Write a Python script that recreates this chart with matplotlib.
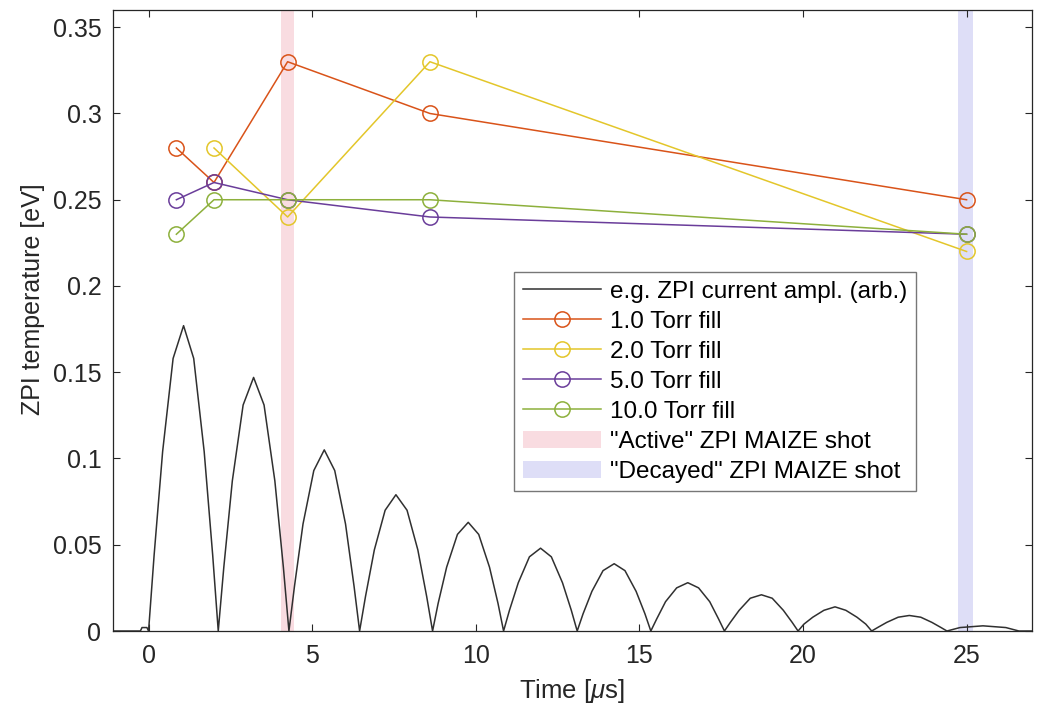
import matplotlib
matplotlib.use("Agg")
import matplotlib.pyplot as plt
import numpy as np

plt.rcParams['font.family'] = ['Liberation Sans', 'DejaVu Sans']
plt.rcParams['mathtext.fontset'] = 'custom'
plt.rcParams['mathtext.it'] = 'Liberation Sans:italic'

# ZPI current trace (arb. units)
t_current = [-1.1, -0.25, -0.2, -0.05,
             0.00, 0.17, 0.43, 0.75, 1.07, 1.38, 1.70, 1.96,
             2.13, 2.30, 2.56, 2.89, 3.21, 3.53, 3.86, 4.12,
             4.29, 4.46, 4.72, 5.05, 5.37, 5.69, 6.02, 6.28,
             6.45, 6.63, 6.90, 7.23, 7.56, 7.90, 8.23, 8.50,
             8.68, 8.85, 9.11, 9.44, 9.77, 10.09, 10.42, 10.68,
             10.85, 11.03, 11.30, 11.64, 11.98, 12.31, 12.65, 12.92,
             13.10, 13.28, 13.55, 13.89, 14.23, 14.56, 14.90, 15.17,
             15.35, 15.53, 15.80, 16.14, 16.48, 16.81, 17.15, 17.42,
             17.60, 17.78, 18.05, 18.39, 18.73, 19.06, 19.40, 19.67,
             19.85, 20.03, 20.30, 20.64, 20.98, 21.31, 21.65, 21.92,
             22.10, 22.28, 22.56, 22.91, 23.25, 23.60, 23.94, 24.22,
             24.40, 24.80, 25.50, 26.20, 26.60, 27.0]
i_current = [0.0, 0.0, 0.002, 0.002,
             0.0, 0.044, 0.104, 0.158, 0.177, 0.158, 0.104, 0.044,
             0.0, 0.037, 0.087, 0.131, 0.147, 0.131, 0.087, 0.037,
             0.0, 0.026, 0.062, 0.093, 0.105, 0.093, 0.062, 0.026,
             0.0, 0.020, 0.047, 0.070, 0.079, 0.070, 0.047, 0.020,
             0.0, 0.016, 0.037, 0.056, 0.063, 0.056, 0.037, 0.016,
             0.0, 0.012, 0.028, 0.043, 0.048, 0.043, 0.028, 0.012,
             0.0, 0.010, 0.023, 0.035, 0.039, 0.035, 0.023, 0.010,
             0.0, 0.007, 0.017, 0.025, 0.028, 0.025, 0.017, 0.007,
             0.0, 0.005, 0.012, 0.019, 0.021, 0.019, 0.012, 0.005,
             0.0, 0.004, 0.008, 0.012, 0.014, 0.012, 0.008, 0.004,
             0.0, 0.002, 0.005, 0.008, 0.009, 0.008, 0.005, 0.002,
             0.0, 0.002, 0.003, 0.002, 0.0, 0.0]

# ZPI temperatures per fill pressure
t_meas = [0.85, 2.0, 4.25, 8.6, 25.0]
temp_1torr = [0.28, 0.26, 0.33, 0.30, 0.25]
t_meas_2torr = [2.0, 4.25, 8.6, 25.0]
temp_2torr = [0.28, 0.24, 0.33, 0.22]
temp_5torr = [0.25, 0.26, 0.25, 0.24, 0.23]
temp_10torr = [0.23, 0.25, 0.25, 0.25, 0.23]

active_span = (4.05, 4.45)
decayed_span = (24.75, 25.2)

xticks = [0, 5, 10, 15, 20, 25]
yticks = [0, 0.05, 0.1, 0.15, 0.2, 0.25, 0.3, 0.35]
yticklabels = ['0', '0.05', '0.1', '0.15', '0.2', '0.25', '0.3', '0.35']

c_orange = '#D95319'
c_yellow = '#E3C62A'
c_purple = '#6A3D9A'
c_green = '#8DB03C'
txt = '#262626'

fig = plt.figure(figsize=(10.52, 7.13), dpi=100)
ax = fig.add_axes([0.107, 0.115, 0.874, 0.871])

ax.axvspan(*active_span, color='#F9DCE1', lw=0, zorder=0, label='"Active" ZPI MAIZE shot')
ax.axvspan(*decayed_span, color='#DEDEF7', lw=0, zorder=0, label='"Decayed" ZPI MAIZE shot')

ax.plot(t_current, i_current, color='#303030', lw=1.1, label='e.g. ZPI current ampl. (arb.)')

mk = dict(marker='o', ms=11, mfc='none', mew=1.1, lw=1.1)
ax.plot(t_meas, temp_1torr, color=c_orange, label='1.0 Torr fill', **mk)
ax.plot(t_meas_2torr, temp_2torr, color=c_yellow, label='2.0 Torr fill', **mk)
ax.plot(t_meas, temp_5torr, color=c_purple, label='5.0 Torr fill', **mk)
ax.plot(t_meas, temp_10torr, color=c_green, label='10.0 Torr fill', **mk)

ax.set_xlim(-1.1, 27.0)
ax.set_ylim(0, 0.36)
ax.set_xticks(xticks)
ax.set_yticks(yticks)
ax.set_yticklabels(yticklabels)
ax.tick_params(direction='in', top=True, right=True, length=5, labelsize=18,
               colors=txt, width=0.8)
ax.tick_params(axis='x', pad=9)
ax.tick_params(axis='y', pad=8)
for s in ax.spines.values():
    s.set_color(txt)
    s.set_linewidth(0.9)

ax.set_xlabel(r'Time [$\mu$s]', fontsize=18.5, color=txt, labelpad=7)
ax.set_ylabel('ZPI temperature [eV]', fontsize=18, color=txt)
ax.yaxis.set_label_coords(-0.074, 0.535)

handles, labels = ax.get_legend_handles_labels()
order = [2, 3, 4, 5, 6, 0, 1]
leg = ax.legend([handles[i] for i in order], [labels[i] for i in order],
                loc='upper right', bbox_to_anchor=(0.874, 0.578), fontsize=17.5,
                frameon=True, fancybox=False, edgecolor='#555555',
                handlelength=3.2, labelspacing=0.33, borderpad=0.35,
                handletextpad=0.4, borderaxespad=0)
leg.get_frame().set_linewidth(1.0)

fig.savefig('out.png', dpi=100)
